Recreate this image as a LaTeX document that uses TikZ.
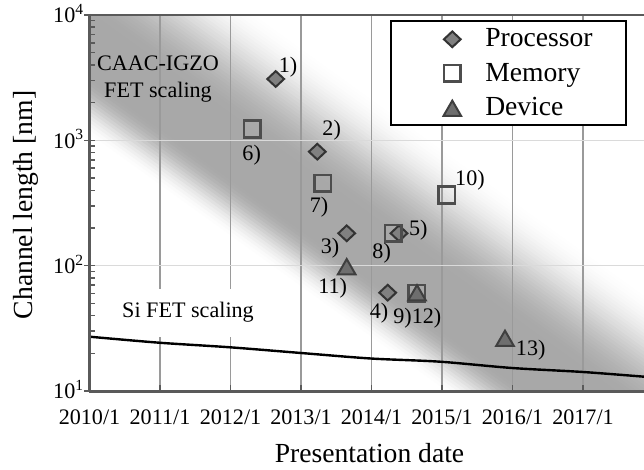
\documentclass[tikz,border=0pt]{standalone}
\usepackage{fontspec}
\setmainfont{Liberation Serif}
\usetikzlibrary{shapes.geometric}
\definecolor{axisgray}{HTML}{5A5A5A}
\definecolor{gridv}{HTML}{9A9A9A}
\definecolor{gridh}{HTML}{DADADA}
\definecolor{procfill}{HTML}{808080}
\definecolor{procline}{HTML}{333333}
\definecolor{memline}{HTML}{4D4D4D}
\definecolor{devfill}{HTML}{6E6E6E}
\definecolor{devline}{HTML}{3F3F3F}
\tikzset{
  proc/.style={diamond, draw=procline, fill=procfill, line width=1.5pt,
    minimum width=13.2pt, minimum height=12.4pt, inner sep=0pt},
  mem/.style={rectangle, draw=memline, line width=2pt, minimum size=12.5pt, inner sep=0pt},
  dev/.style={regular polygon, regular polygon sides=3, draw=devline, fill=devfill,
    line width=1.5pt, minimum size=15.2pt, inner sep=0pt},
  lab/.style={font=\fontsize{16.6}{20}\selectfont, inner sep=0pt},
  big/.style={font=\fontsize{20.7}{25}\selectfont, inner sep=0pt},
  gridvline/.style={draw=gridv, line width=1pt},
  gridhline/.style={draw=gridh, line width=1pt},
  axisline/.style={draw=axisgray, line width=2.3pt},
  tickline/.style={draw=axisgray, line width=1.1pt},
}
\begin{document}
\begin{tikzpicture}[x=0.75pt, y=-0.75pt]
\useasboundingbox (0,0) rectangle (644,470);
% diagonal gray band
\begin{scope}
  \clip (89.5,15) rectangle (644,391);
  \begin{scope}[shift={(88,40)}, rotate=-35.75]
    \foreach \d in {-90,-87,...,141}{
      \pgfmathsetmacro\ga{17*(1-cos(3.6*(min(max(\d,-80),-30)+80)))}
      \pgfmathsetmacro\gb{17*(1+cos(1.8*(min(max(\d,20),120)-20)))}
      \pgfmathsetmacro\g{max(0,(\d<0)?\ga:\gb)}
      \fill[black!\g] (-300,{-(\d)}) rectangle (1100,{-(\d)-4});
    }
  \end{scope}
\end{scope}
% grid
\foreach \x in {160,230.5,301,371.5,442,512.5,583}{
  \draw[gridvline] (\x,15) -- (\x,391);
}
\foreach \y in {140.3,265.7}{
  \draw[gridhline] (89.5,\y) -- (644,\y);
}
% annotations
\node[lab, align=center] (caac) at (158,79) {CAAC-IGZO\\FET scaling};
\node[lab, fill=white, inner xsep=3pt, minimum height=36pt] (sifet) at (188,312.7) {Si FET scaling};
% Si FET curve
\draw[black, line width=1.8pt] plot[smooth] coordinates {(89.5,336.7) (159,342.7) (230,347.3) (301,353) (370.7,358.5) (440,361.7) (512,368) (583,372) (644,376.7)};
% data markers
\node[proc] (p1) at (275.7,79) {};
\node[proc] (p2) at (317.3,151.7) {};
\node[proc] (p3) at (346.7,233.3) {};
\node[proc] (p4) at (387.7,292.7) {};
\node[proc] (p5) at (399,233.3) {};
\node[mem] (m6) at (252.3,129) {};
\node[mem] (m7) at (322.7,183.3) {};
\node[mem] (m8) at (393.3,233.3) {};
\node[mem] (m9) at (416.7,293.3) {};
\node[mem] (m10) at (446.7,195) {};
\node[dev] (d11) at (346.7,269.2) {};
\node[dev] (d12) at (417,295.3) {};
\node[dev] (d13) at (505,340.8) {};
% data labels
\node[lab] (l1) at (288,67) {1)};
\node[lab] (l2) at (331.7,130) {2)};
\node[lab] (l3) at (330,247.7) {3)};
\node[lab] (l4) at (379,312.7) {4)};
\node[lab] (l5) at (418.3,230) {5)};
\node[lab] (l6) at (251.7,155) {6)};
\node[lab] (l7) at (319,207.3) {7)};
\node[lab] (l8) at (381.7,253.3) {8)};
\node[lab] (l912) at (417.3,318.3) {9)12)};
\node[lab] (l10) at (470,180) {10)};
\node[lab] (l11) at (332.7,288.3) {11)};
\node[lab] (l13) at (530.7,350) {13)};
% legend
\node[draw=black, line width=1.5pt, fill=white, minimum width=176.7pt, minimum height=78pt, inner sep=0pt] (legend) at (508.5,72.7) {};
\node[proc] (lgp) at (452.3,39.3) {};
\node[mem] (lgm) at (452.3,73.3) {};
\node[dev] (lgd) at (452.3,110.8) {};
\node[big, anchor=base west] (lgpt) at (485,46.5) {Processor};
\node[big, anchor=base west] (lgmt) at (485,81.5) {Memory};
\node[big, anchor=base west] (lgdt) at (485,115.5) {Device};
% ticks
\foreach \b in {391,265.7,140.3}{
  \foreach \m in {2,...,9}{
    \draw[tickline] (89.5,{\b-125.3*log10(\m)}) -- ++(5,0);
  }
}
\foreach \y in {15,140.3,265.7,391}{
  \draw[tickline] (84,\y) -- (95,\y);
}
\foreach \x in {160,230.5,301,371.5,442,512.5,583}{
  \draw[tickline] (\x,391) -- (\x,385.5);
}
% axes
\draw[draw=axisgray, line width=1.5pt] (89.5,15) -- (644,15);
\draw[axisline] (89.5,14) -- (89.5,392.5);
\draw[axisline] (88.5,391.5) -- (644,391.5);
% tick labels
\node[lab, anchor=base east] (y4) at (84,23) {10\textsuperscript{4}};
\node[lab, anchor=base east] (y3) at (84,148.3) {10\textsuperscript{3}};
\node[lab, anchor=base east] (y2) at (84,273.7) {10\textsuperscript{2}};
\node[lab, anchor=base east] (y1) at (84,399) {10\textsuperscript{1}};
\node[lab, anchor=base] (x10) at (89.5,425) {2010/1};
\node[lab, anchor=base] (x11) at (160,425) {2011/1};
\node[lab, anchor=base] (x12) at (230.5,425) {2012/1};
\node[lab, anchor=base] (x13) at (301,425) {2013/1};
\node[lab, anchor=base] (x14) at (371.5,425) {2014/1};
\node[lab, anchor=base] (x15) at (442,425) {2015/1};
\node[lab, anchor=base] (x16) at (512.5,425) {2016/1};
\node[lab, anchor=base] (x17) at (583,425) {2017/1};
% axis titles
\node[big, anchor=base] (xtitle) at (369.5,462.5) {Presentation date};
\node[big, anchor=base, rotate=90] (ytitle) at (32,205) {Channel length [nm]};
\end{tikzpicture}
\end{document}
